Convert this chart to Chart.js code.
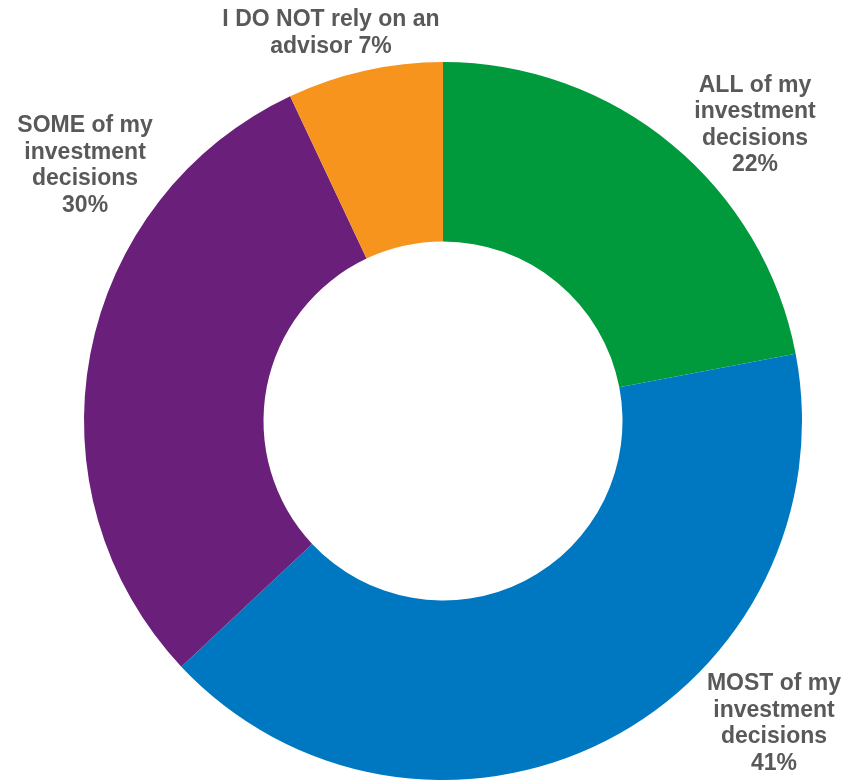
<!DOCTYPE html>
<html>
<head>
<meta charset="utf-8">
<title>Reliance on an advisor for investment decisions</title>
<script src="https://cdn.jsdelivr.net/npm/chart.js@4/dist/chart.umd.min.js"></script>
<style>
  html, body { margin: 0; padding: 0; background: #ffffff; overflow: hidden; }
  #wrap { position: relative; width: 848px; height: 781px; }
</style>
</head>
<body>
<div id="wrap"><canvas id="chart"></canvas></div>
<script>
// Survey shares, clockwise from 12 o'clock
const categories = [
  "ALL of my investment decisions",
  "MOST of my investment decisions",
  "SOME of my investment decisions",
  "I DO NOT rely on an advisor"
];
const shares = [22, 41, 30, 7];
const sliceColors = ["#009A3D", "#0078C1", "#6A1F7A", "#F7941D"];

// Label text broken into lines; the percentage either sits on its own line or ends the last one
const labelLines = [
  ["ALL of my", "investment", "decisions"],
  ["MOST of my", "investment", "decisions"],
  ["SOME of my", "investment", "decisions"],
  ["I DO NOT rely on an", "advisor"]
];
const percentInline = [false, false, false, true];

// Label block centres, as multiples of the outer radius from the ring centre
const labelOffsetX = [0.869, 0.922, -0.997, -0.312];
const labelOffsetY = [-0.829, 0.838, -0.717, -1.085];

const LABEL_FONT = 'bold 23px "Liberation Sans", Arial, sans-serif';
const LABEL_COLOR = "#595959";
const LINE_HEIGHT = 26.5;

const outsideLabels = {
  id: "outsideLabels",
  afterDatasetsDraw(chart) {
    const ctx = chart.ctx;
    const meta = chart.getDatasetMeta(0);
    const values = chart.data.datasets[0].data;
    ctx.save();
    ctx.font = LABEL_FONT;
    ctx.fillStyle = LABEL_COLOR;
    ctx.textAlign = "center";
    ctx.textBaseline = "alphabetic";
    meta.data.forEach((arc, i) => {
      const { x, y, outerRadius } = arc.getProps(["x", "y", "outerRadius"], true);
      const lines = labelLines[i].slice();
      const pct = values[i] + "%";
      if (percentInline[i]) {
        lines[lines.length - 1] = lines[lines.length - 1] + " " + pct;
      } else {
        lines.push(pct);
      }
      const cx = x + labelOffsetX[i] * outerRadius;
      const cy = y + labelOffsetY[i] * outerRadius;
      const top = cy - (lines.length - 1) * LINE_HEIGHT / 2;
      lines.forEach((ln, k) => {
        // shift from cap-height centre to the alphabetic baseline
        ctx.fillText(ln, cx, top + k * LINE_HEIGHT + 8.2);
      });
    });
    ctx.restore();
  }
};

new Chart(document.getElementById("chart"), {
  type: "doughnut",
  data: {
    labels: categories,
    datasets: [{
      data: shares,
      backgroundColor: sliceColors,
      borderWidth: 0,
      hoverOffset: 0
    }]
  },
  options: {
    responsive: true,
    maintainAspectRatio: false,
    animation: false,
    cutout: "50%",
    layout: { padding: { left: 84, right: 46, top: 62, bottom: 1 } },
    plugins: {
      legend: { display: false },
      tooltip: { enabled: false }
    }
  },
  plugins: [outsideLabels]
});
</script>
</body>
</html>
